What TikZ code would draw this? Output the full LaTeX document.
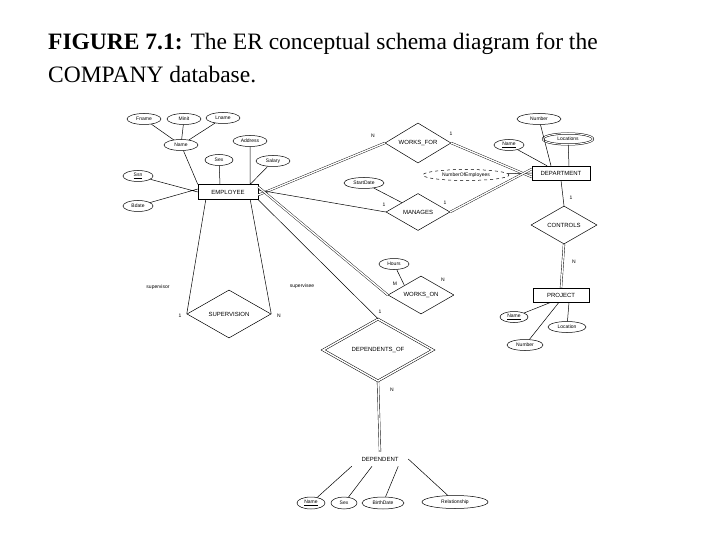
\documentclass[tikz,border=0pt]{standalone}
\usepackage{fontspec}
\setmainfont{Liberation Serif}
\newfontfamily\diag{Liberation Sans}
\usetikzlibrary{shapes.geometric}
\begin{document}
\begin{tikzpicture}[x=1pt,y=-1pt,
 every node/.style={font=\diag\fontsize{5}{6}\selectfont},
 attr/.style={draw,ellipse,line width=0.5pt,inner sep=0.5pt,minimum height=11,minimum width=34},
 ent/.style={draw,rectangle,line width=0.5pt,minimum height=15,inner sep=2pt,font=\diag\fontsize{6}{7}\selectfont},
 rel/.style={draw,diamond,aspect=1.7,line width=0.5pt,inner sep=1pt,font=\diag\fontsize{6}{7}\selectfont},
 lbl/.style={font=\diag\fontsize{5}{6}\selectfont},
 ln/.style={line width=0.5pt},
 dl/.style={double,double distance=1.4pt,line width=0.4pt}]
\useasboundingbox (0,0) rectangle (720,540);
\node[anchor=west,font=\fontsize{23.5}{28}\selectfont,inner sep=0pt] (t1) at (48,44) {\textbf{FIGURE 7.1:} The ER conceptual schema diagram for the};
\node[anchor=west,font=\fontsize{23.5}{28}\selectfont,inner sep=0pt] (t2) at (48,75) {COMPANY database.};
% entities
\node[ent,minimum width=60] (emp) at (228,192) {EMPLOYEE};
\node[ent,minimum width=58,minimum height=14] (dep) at (561,173) {DEPARTMENT};
\node[ent,minimum width=56,minimum height=14] (proj) at (561,295) {PROJECT};
\node[ent,minimum width=56,minimum height=14,double,double distance=1.5pt] (dpt) at (380,459) {DEPENDENT};
% relationships
\node[rel,minimum width=66,minimum height=40] (wf) at (418,143) {WORKS\_FOR};
\node[rel,minimum width=64,minimum height=37] (man) at (418,212) {MANAGES};
\node[rel,minimum width=66,minimum height=38] (ctl) at (564,225) {CONTROLS};
\node[rel,minimum width=66,minimum height=38] (won) at (421,295) {WORKS\_ON};
\node[rel,minimum width=84,minimum height=48] (sup) at (229,314) {SUPERVISION};
\node[rel,minimum width=110,minimum height=62,double,double distance=1.5pt] (dof) at (378,350) {DEPENDENTS\_OF};
% employee attributes
\node[attr] (fn) at (144,119) {Fname};
\node[attr] (mi) at (184,119) {Minit};
\node[attr] (lnm) at (223,118) {Lname};
\node[attr] (nm) at (181,145) {Name};
\node[attr] (ad) at (250,141) {Address};
\node[attr,minimum width=28] (sx) at (219,160) {Sex};
\node[attr] (sa) at (273,161) {Salary};
\node[attr,minimum width=30] (ssn) at (138,176) {\underline{Ssn}};
\node[attr,minimum width=30] (bd) at (138,206) {Bdate};
\draw[ln] (fn)--(nm) (mi)--(nm) (lnm)--(nm) (nm)--(emp.north west) (sx)--([xshift=-8]emp.north) (ad)--([xshift=22]emp.north) (sa)--([xshift=-8]emp.north east) (ssn)--(emp.west) (bd)--([yshift=3]emp.west);
% department attributes
\node[attr,minimum width=44] (dnum) at (539,119) {Number};
\node[attr,minimum width=30] (dnm) at (509,145) {\underline{Name}};
\node[attr,minimum width=50,double,double distance=1pt] (loc) at (568,139) {Locations};
\node[attr,dashed,minimum width=86] (noe) at (466,175) {NumberOfEmployees};
\draw[ln] (dnum)--([xshift=-10]dep.north) (dnm)--([xshift=-14]dep.north) (loc)--([xshift=8]dep.north) (noe)--(dep.west);
% manages / works_on attributes
\node[attr,minimum width=40] (sd) at (364,183) {StartDate};
\draw[ln] (sd)--(man.north west);
\node[attr,minimum width=30] (hrs) at (394,264) {Hours};
\draw[ln] (hrs)--(won.north west);
% project attributes
\node[attr,minimum width=28] (pnm) at (514,317) {\underline{Name}};
\node[attr,minimum width=38] (ploc) at (567,327) {Location};
\node[attr,minimum width=36] (pnum) at (525,345) {Number};
\draw[ln] (pnm)--([xshift=-10]proj.south) (ploc)--([xshift=8]proj.south) (pnum)--([xshift=-2]proj.south);
% dependent attributes
\node[attr,minimum width=28,minimum height=12] (dn) at (311,503) {\underline{Name}};
\node[attr,minimum width=26,minimum height=12] (ds) at (344,503) {Sex};
\node[attr,minimum width=42,minimum height=12] (dbd) at (383,503) {BirthDate};
\node[attr,minimum width=66,minimum height=13] (drel) at (455,502) {Relationship};
\draw[ln] (dn)--(dpt.south west) (ds)--([xshift=-8]dpt.south) (dbd)--([xshift=-10]dpt.south east) (drel)--(dpt.east);
% relationship lines
\draw[dl] ([yshift=-3]emp.east)--(wf.west);
\draw[dl] (wf.east)--([yshift=-4]dep.west);
\draw[ln] ([yshift=2]emp.east)--(man.west);
\draw[dl] (man.east)--([yshift=4]dep.west);
\draw[ln] (dep.south)--(ctl.north);
\draw[dl] (ctl.south)--(proj.north);
\draw[dl] ([yshift=5]emp.east)--(won.west);
\draw[dl] (won.east)--(proj.west);
\draw[ln] (emp.south east)--(dof.north);
\draw[dl] (dof.south)--(dpt.north);
\draw[ln] ([xshift=8]emp.south west)--(sup.west);
\draw[ln] ([xshift=-8]emp.south east)--(sup.east);
% labels
\node[lbl] (l1) at (373,136) {N};
\node[lbl] (l2) at (451,134) {1};
\node[lbl] (l3) at (384,205) {1};
\node[lbl] (l4) at (445,203) {1};
\node[lbl] (l5) at (571,198) {1};
\node[lbl] (l6) at (574,262) {N};
\node[lbl] (l7) at (395,284) {M};
\node[lbl] (l8) at (443,280) {N};
\node[lbl] (l9) at (380,312) {1};
\node[lbl] (l10) at (392,390) {N};
\node[lbl] (l11) at (158,287) {supervisor};
\node[lbl] (l12) at (302,286) {supervisee};
\node[lbl] (l13) at (180,316) {1};
\node[lbl] (l14) at (279,316) {N};
\end{tikzpicture}
\end{document}
